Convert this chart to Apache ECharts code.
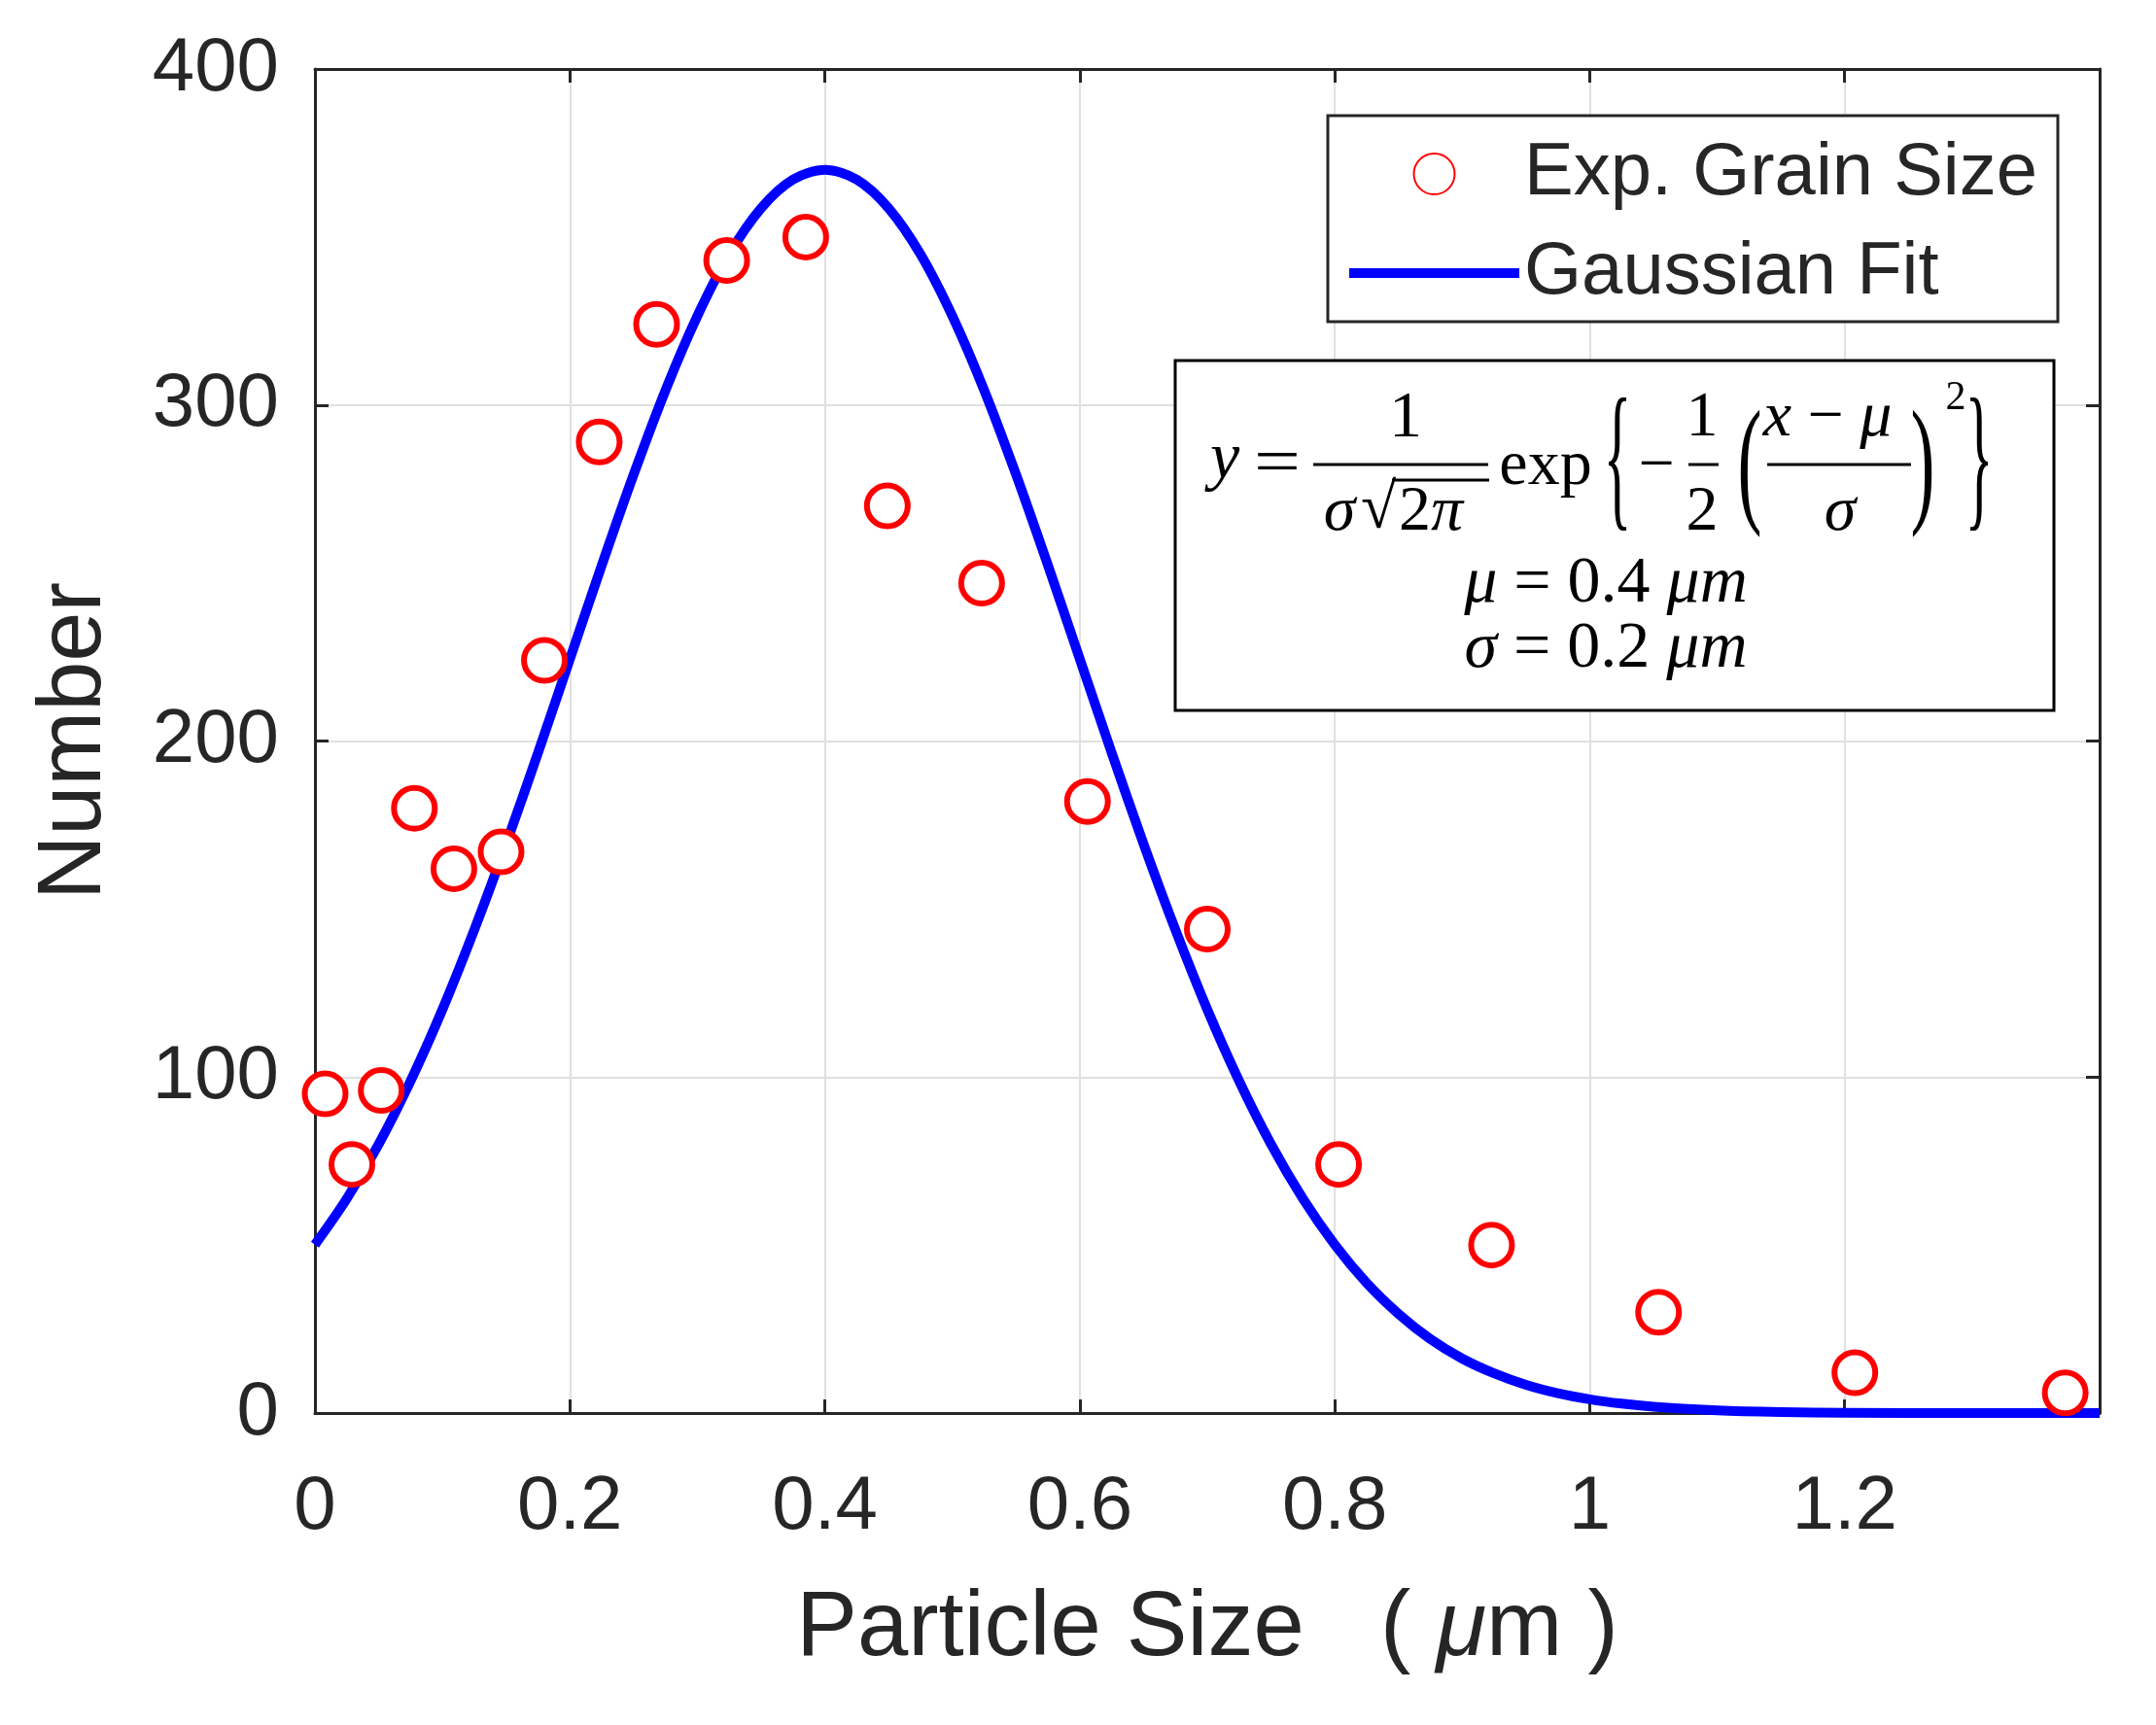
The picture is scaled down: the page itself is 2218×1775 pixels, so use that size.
<!DOCTYPE html>
<html>
<head>
<meta charset="utf-8">
<title>Particle size distribution</title>
<script src="https://cdn.jsdelivr.net/npm/echarts@6/dist/echarts.min.js"></script>
<style>
  html, body { margin: 0; padding: 0; background: #fff; }
  #chart { width: 2218px; height: 1775px; }
</style>
</head>
<body>
<div id="chart"></div>
<script>
// measured points (um, count)
const grainSize = [0.008, 0.029, 0.052, 0.078, 0.109, 0.146, 0.180, 0.223, 0.268, 0.323,
  0.385, 0.449, 0.523, 0.606, 0.700, 0.803, 0.923, 1.054, 1.208, 1.373];
const grainCount = [95, 74, 96, 180, 162, 167, 224, 289, 324, 343,
  350, 270, 247, 182, 144, 74, 50, 30, 12, 6];

// fitted curve
const fitSize = [0, 0.025, 0.05, 0.075, 0.1, 0.125, 0.15, 0.175, 0.2, 0.225, 0.25, 0.275,
  0.3, 0.325, 0.35, 0.375, 0.4, 0.425, 0.45, 0.475, 0.5, 0.525, 0.55, 0.575, 0.6, 0.625,
  0.65, 0.675, 0.7, 0.725, 0.75, 0.775, 0.8, 0.825, 0.85, 0.875, 0.9, 0.925, 0.95, 0.975,
  1.0, 1.025, 1.05, 1.1, 1.15, 1.2, 1.3, 1.4];
const fitCount = [50.1, 63.8, 80.0, 98.8, 120.1, 143.8, 169.4, 196.5, 224.4, 252.3, 279.3, 304.4,
  326.5, 344.9, 358.6, 367.1, 370.0, 367.1, 358.6, 344.9, 326.5, 304.4, 279.3, 252.3, 224.4, 196.5,
  169.4, 143.8, 120.1, 98.8, 80.0, 63.8, 50.1, 38.7, 29.5, 22.0, 16.2, 11.8, 8.4, 5.9,
  4.1, 2.8, 1.9, 0.8, 0.3, 0.1, 0, 0];

const legendNames = ['Exp. Grain Size', 'Gaussian Fit'];
const xRange = [0, 1.4, 0.2];
const yRange = [0, 400, 100];

const AXIS = '#262626';
const SANS = '"Liberation Sans", Arial, sans-serif';
const SERIF = '"Liberation Serif", "DejaVu Serif", serif';

const chart = echarts.init(document.getElementById('chart'));

// small helper for the formula texts
function txt(x, y, text, size, opts) {
  opts = opts || {};
  return {
    type: 'text', x: x, y: y, z: 101,
    scaleX: opts.sx || 1, scaleY: opts.sy || 1,
    style: {
      text: text, x: 0, y: 0,
      fontFamily: SERIF, fontSize: size, fontStyle: opts.italic ? 'italic' : 'normal',
      fill: '#000',
      textAlign: 'center', textVerticalAlign: 'middle',
      align: 'center', verticalAlign: 'middle',
      rich: {
        i: { fontFamily: SERIF, fontSize: size, fontStyle: 'italic', fill: '#000' }
      }
    }
  };
}
function bar(x1, x2, y) {
  return { type: 'line', z: 101, shape: { x1: x1, y1: y, x2: x2, y2: y }, style: { stroke: '#000', lineWidth: 3 } };
}

const formula = [
  { type: 'rect', z: 100, shape: { x: 1209, y: 371, width: 904, height: 360 },
    style: { fill: '#fff', stroke: '#000', lineWidth: 3 } },
  txt(1260, 474, 'y', 68, { italic: true }),
  txt(1314, 479, '=', 68, { sx: 1.25 }),
  txt(1446, 431, '1', 68),
  bar(1351, 1531, 478),
  txt(1378, 528, 'σ', 66, { italic: true }),
  txt(1418, 526, '√', 66),
  txt(1472, 528, '2{i|π}', 66),
  bar(1432, 1532, 494),
  txt(1590, 481, 'exp', 66),
  txt(1664, 481, '{', 110, { sx: 0.55, sy: 1.5 }),
  txt(1704, 481, '−', 66),
  txt(1751, 431, '1', 66),
  bar(1737, 1768, 478),
  txt(1751, 528, '2', 66),
  txt(1800, 484, '(', 100, { sx: 0.75, sy: 1.45 }),
  txt(1880, 431, '{i|x} − {i|μ}', 66),
  bar(1818, 1966, 478),
  txt(1893, 528, 'σ', 66, { italic: true }),
  txt(1978, 484, ')', 100, { sx: 0.75, sy: 1.45 }),
  txt(2012, 410, '2', 42),
  txt(2036, 481, '}', 110, { sx: 0.55, sy: 1.5 }),
  txt(1652, 601, '{i|μ} = 0.4 {i|μm}', 68),
  txt(1652, 668, '{i|σ} = 0.2 {i|μm}', 68)
];

const frameAxis = {
  axisLine: { show: true, onZero: false, lineStyle: { color: AXIS, width: 3 } },
  axisTick: { show: true, inside: true, length: 14, lineStyle: { color: AXIS, width: 3 } },
  axisLabel: { show: false },
  splitLine: { show: false }
};

const option = {
  backgroundColor: '#fff',
  animation: false,
  grid: { left: 324, right: 58, top: 71, bottom: 321 },
  legend: {
    orient: 'vertical', left: 1366, top: 119,
    padding: [22, 21, 12, 17],
    itemWidth: 175, itemHeight: 42, itemGap: 26,
    backgroundColor: '#fff', borderColor: AXIS, borderWidth: 3,
    textStyle: { fontSize: 76, color: AXIS, fontFamily: SANS },
    data: [
      { name: legendNames[0] },
      { name: legendNames[1], itemStyle: { opacity: 0 }, lineStyle: { width: 10, color: '#0000ff' } }
    ]
  },
  xAxis: [
    {
      type: 'value', position: 'bottom',
      min: xRange[0], max: xRange[1], interval: xRange[2],
      name: 'Particle Size   ( {mu|μ}m )', nameLocation: 'middle', nameGap: 176,
      nameTextStyle: {
        fontFamily: SANS, fontSize: 94, color: AXIS,
        rich: { mu: { fontFamily: SANS, fontSize: 94, fontStyle: 'italic', color: AXIS } }
      },
      axisLine: { show: true, onZero: false, lineStyle: { color: AXIS, width: 3 } },
      axisTick: { show: true, inside: true, length: 14, lineStyle: { color: AXIS, width: 3 } },
      axisLabel: { margin: 58, fontSize: 78, color: AXIS, fontFamily: SANS, showMaxLabel: false },
      splitLine: { show: true, lineStyle: { color: '#e0e0e0', width: 2 } }
    },
    Object.assign({ type: 'value', position: 'top', min: xRange[0], max: xRange[1], interval: xRange[2] }, frameAxis)
  ],
  yAxis: [
    {
      type: 'value', position: 'left',
      min: yRange[0], max: yRange[1], interval: yRange[2],
      name: 'Number', nameLocation: 'middle', nameGap: 200,
      nameTextStyle: { fontFamily: SANS, fontSize: 92, color: AXIS },
      axisLine: { show: true, onZero: false, lineStyle: { color: AXIS, width: 3 } },
      axisTick: { show: true, inside: true, length: 14, lineStyle: { color: AXIS, width: 3 } },
      axisLabel: { margin: 37, fontSize: 78, color: AXIS, fontFamily: SANS },
      splitLine: { show: true, lineStyle: { color: '#e0e0e0', width: 2 } }
    },
    Object.assign({ type: 'value', position: 'right', min: yRange[0], max: yRange[1], interval: yRange[2] }, frameAxis)
  ],
  series: [
    {
      name: legendNames[0],
      type: 'scatter',
      symbol: 'circle',
      symbolSize: 42,
      itemStyle: { color: '#ffffff', borderColor: '#ff0000', borderWidth: 6, opacity: 1 },
      data: grainSize.map((x, i) => [x, grainCount[i]]),
      z: 4
    },
    {
      name: legendNames[1],
      type: 'line',
      symbol: 'none',
      showSymbol: false,
      smooth: 0.3,
      lineStyle: { color: '#0000ff', width: 10, join: 'round' },
      itemStyle: { color: '#0000ff' },
      data: fitSize.map((x, i) => [x, fitCount[i]]),
      z: 3
    }
  ],
  graphic: formula
};

chart.setOption(option);
</script>
</body>
</html>
